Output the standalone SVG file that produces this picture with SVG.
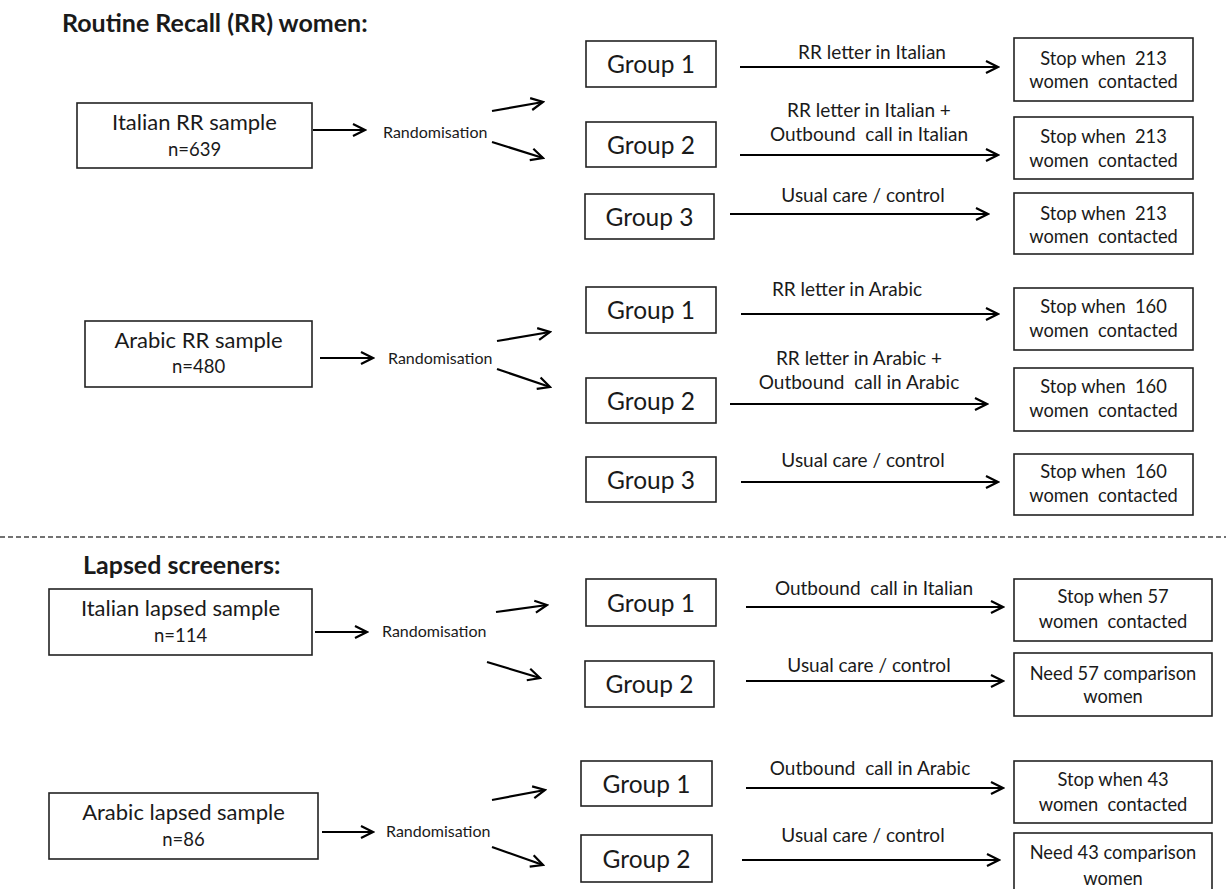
<svg xmlns="http://www.w3.org/2000/svg" width="1226" height="889" viewBox="0 0 1226 889">
<defs>
<style>
.box{fill:#fff;stroke:#222;stroke-width:1.6}
.t{font-family:Lato,"Liberation Sans",sans-serif;fill:#1a1a1a}
.head{font-weight:bold;font-size:25px}
.samp{font-size:22px;text-anchor:middle}
.n{font-size:18.5px;text-anchor:middle}
.rand{font-size:16px}
.grp{font-size:24.5px;text-anchor:middle}
.lbl{font-size:19px;text-anchor:middle}
.stop{font-size:18.3px;text-anchor:middle}
.c{stroke:#000;stroke-width:2.2;fill:none;marker-end:url(#ah)}
.dash{stroke:#444;stroke-width:1.4;stroke-dasharray:5 3}
</style>
<marker id="ah" markerUnits="userSpaceOnUse" markerWidth="16" markerHeight="16" viewBox="0 0 16 16" refX="14" refY="8" orient="auto">
<path d="M2,2 L14,8 L2,14" fill="none" stroke="#000" stroke-width="2.2"/>
</marker>
</defs>
<rect x="0" y="0" width="1226" height="889" fill="#fff"/>

<g id="title-rr"><text class="t head" x="62" y="32">Routine Recall (RR) women:</text></g>
<g id="title-lapsed"><text class="t head" x="83" y="574">Lapsed screeners:</text></g>
<line id="divider" class="dash" x1="0" y1="537" x2="1226" y2="537"/>

<!-- Italian RR -->
<g id="it-rr-sample"><rect class="box" x="77" y="103" width="235" height="65"/>
<text class="t samp" x="194.5" y="130">Italian RR sample</text><text class="t n" x="194.5" y="156">n=639</text></g>
<g id="it-rr-rand"><text class="t rand" x="383" y="138">Randomisation</text></g>
<g id="it-rr-g1"><rect class="box" x="586" y="41" width="130" height="46"/><text class="t grp" x="651" y="73">Group 1</text></g>
<g id="it-rr-g2"><rect class="box" x="586" y="122" width="130" height="45"/><text class="t grp" x="651" y="153.5">Group 2</text></g>
<g id="it-rr-g3"><rect class="box" x="585" y="194" width="129" height="45"/><text class="t grp" x="649.5" y="225.5">Group 3</text></g>
<g id="it-rr-s1"><rect class="box" x="1014" y="38" width="179" height="63"/>
<text class="t stop" x="1103.5" y="65" xml:space="preserve">Stop when  213</text><text class="t stop" x="1103.5" y="88" xml:space="preserve">women  contacted</text></g>
<g id="it-rr-s2"><rect class="box" x="1014" y="117" width="179" height="62"/>
<text class="t stop" x="1103.5" y="143" xml:space="preserve">Stop when  213</text><text class="t stop" x="1103.5" y="167" xml:space="preserve">women  contacted</text></g>
<g id="it-rr-s3"><rect class="box" x="1014" y="193" width="179" height="61"/>
<text class="t stop" x="1103.5" y="220" xml:space="preserve">Stop when  213</text><text class="t stop" x="1103.5" y="243" xml:space="preserve">women  contacted</text></g>

<!-- Arabic RR -->
<g id="ar-rr-sample"><rect class="box" x="85" y="321" width="227" height="66"/>
<text class="t samp" x="198.5" y="348">Arabic RR sample</text><text class="t n" x="198.5" y="373">n=480</text></g>
<g id="ar-rr-rand"><text class="t rand" x="388" y="364">Randomisation</text></g>
<g id="ar-rr-g1"><rect class="box" x="586" y="287" width="130" height="46"/><text class="t grp" x="651" y="319">Group 1</text></g>
<g id="ar-rr-g2"><rect class="box" x="586" y="378" width="130" height="45"/><text class="t grp" x="651" y="409.5">Group 2</text></g>
<g id="ar-rr-g3"><rect class="box" x="586" y="457" width="130" height="45"/><text class="t grp" x="651" y="488.5">Group 3</text></g>
<g id="ar-rr-s1"><rect class="box" x="1014" y="288" width="179" height="62"/>
<text class="t stop" x="1103.5" y="313" xml:space="preserve">Stop when  160</text><text class="t stop" x="1103.5" y="337" xml:space="preserve">women  contacted</text></g>
<g id="ar-rr-s2"><rect class="box" x="1014" y="368" width="179" height="63"/>
<text class="t stop" x="1103.5" y="393" xml:space="preserve">Stop when  160</text><text class="t stop" x="1103.5" y="417" xml:space="preserve">women  contacted</text></g>
<g id="ar-rr-s3"><rect class="box" x="1014" y="454" width="179" height="61"/>
<text class="t stop" x="1103.5" y="478" xml:space="preserve">Stop when  160</text><text class="t stop" x="1103.5" y="502" xml:space="preserve">women  contacted</text></g>

<!-- Italian lapsed -->
<g id="it-l-sample"><rect class="box" x="49" y="589" width="263" height="66"/>
<text class="t samp" x="180.5" y="616">Italian lapsed sample</text><text class="t n" x="180.5" y="642">n=114</text></g>
<g id="it-l-rand"><text class="t rand" x="382" y="637">Randomisation</text></g>
<g id="it-l-g1"><rect class="box" x="586" y="579" width="130" height="47"/><text class="t grp" x="651" y="611.5">Group 1</text></g>
<g id="it-l-g2"><rect class="box" x="585" y="661" width="129" height="46"/><text class="t grp" x="649.5" y="693">Group 2</text></g>
<g id="it-l-s1"><rect class="box" x="1014" y="579" width="198" height="62"/>
<text class="t stop" x="1113" y="603">Stop when 57</text><text class="t stop" x="1113" y="628" xml:space="preserve">women  contacted</text></g>
<g id="it-l-s2"><rect class="box" x="1014" y="653" width="198" height="63"/>
<text class="t stop" x="1113" y="680">Need 57 comparison</text><text class="t stop" x="1113" y="703">women</text></g>

<!-- Arabic lapsed -->
<g id="ar-l-sample"><rect class="box" x="49" y="793" width="269" height="66"/>
<text class="t samp" x="183.5" y="820">Arabic lapsed sample</text><text class="t n" x="183.5" y="846">n=86</text></g>
<g id="ar-l-rand"><text class="t rand" x="386" y="837">Randomisation</text></g>
<g id="ar-l-g1"><rect class="box" x="581" y="761" width="131" height="45"/><text class="t grp" x="646.5" y="792.5">Group 1</text></g>
<g id="ar-l-g2"><rect class="box" x="581" y="835" width="131" height="47"/><text class="t grp" x="646.5" y="867.5">Group 2</text></g>
<g id="ar-l-s1"><rect class="box" x="1014" y="761" width="198" height="62"/>
<text class="t stop" x="1113" y="786">Stop when 43</text><text class="t stop" x="1113" y="811" xml:space="preserve">women  contacted</text></g>
<g id="ar-l-s2"><rect class="box" x="1014" y="833" width="198" height="70"/>
<text class="t stop" x="1113" y="859">Need 43 comparison</text><text class="t stop" x="1113" y="885">women</text></g>

<g id="connectors">
<line class="c" x1="313" y1="130" x2="365" y2="130"/>
<line class="c" x1="492" y1="111" x2="543" y2="102"/>
<line class="c" x1="492" y1="142" x2="543" y2="158"/>
<line class="c" x1="740" y1="67" x2="998" y2="67"/>
<line class="c" x1="740" y1="155" x2="998" y2="155"/>
<line class="c" x1="730" y1="214" x2="988" y2="214"/>
<text class="t lbl" x="872" y="59">RR letter in Italian</text>
<text class="t lbl" x="869" y="117">RR letter in Italian +</text>
<text class="t lbl" x="869" y="141" xml:space="preserve">Outbound  call in Italian</text>
<text class="t lbl" x="863" y="202">Usual care / control</text>

<line class="c" x1="320" y1="358" x2="373" y2="358"/>
<line class="c" x1="497" y1="341" x2="550" y2="332"/>
<line class="c" x1="497" y1="369" x2="550" y2="387"/>
<line class="c" x1="741" y1="314" x2="998" y2="314"/>
<line class="c" x1="730" y1="404" x2="987" y2="404"/>
<line class="c" x1="741" y1="482" x2="998" y2="482"/>
<text class="t lbl" x="847" y="296">RR letter in Arabic</text>
<text class="t lbl" x="859" y="365">RR letter in Arabic +</text>
<text class="t lbl" x="859" y="389" xml:space="preserve">Outbound  call in Arabic</text>
<text class="t lbl" x="863" y="467">Usual care / control</text>

<line class="c" x1="315" y1="632" x2="367" y2="632"/>
<line class="c" x1="496" y1="612" x2="547" y2="605"/>
<line class="c" x1="487" y1="662" x2="540" y2="678"/>
<line class="c" x1="746" y1="607" x2="1003" y2="607"/>
<line class="c" x1="746" y1="681" x2="1003" y2="681"/>
<text class="t lbl" x="874" y="595" xml:space="preserve">Outbound  call in Italian</text>
<text class="t lbl" x="869" y="672">Usual care / control</text>

<line class="c" x1="322" y1="832" x2="373" y2="832"/>
<line class="c" x1="492" y1="800" x2="545" y2="790"/>
<line class="c" x1="492" y1="847" x2="543" y2="865"/>
<line class="c" x1="746" y1="788" x2="1003" y2="788"/>
<line class="c" x1="742" y1="860" x2="999" y2="860"/>
<text class="t lbl" x="870" y="775" xml:space="preserve">Outbound  call in Arabic</text>
<text class="t lbl" x="863" y="842">Usual care / control</text>
</g>
</svg>
